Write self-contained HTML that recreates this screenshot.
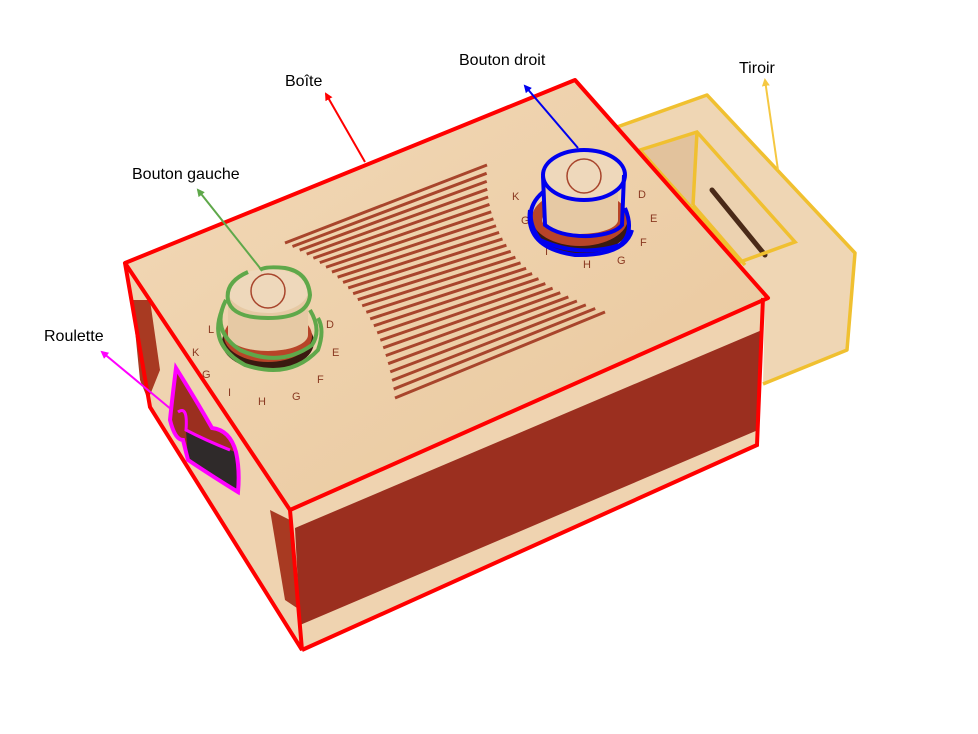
<!DOCTYPE html>
<html><head><meta charset="utf-8"><style>
html,body{margin:0;padding:0;background:#fff}
svg{display:block}
text{font-family:"Liberation Sans",sans-serif;font-size:16px;fill:#000}
</style></head><body>
<svg width="978" height="734" viewBox="0 0 978 734" xmlns="http://www.w3.org/2000/svg">
<defs>
<marker id="ar" markerWidth="8" markerHeight="8" refX="6" refY="4" orient="auto" markerUnits="userSpaceOnUse"><path d="M0,0 L8,4 L0,8 z" fill="red"/></marker>
<marker id="ab" markerWidth="8" markerHeight="8" refX="6" refY="4" orient="auto" markerUnits="userSpaceOnUse"><path d="M0,0 L8,4 L0,8 z" fill="#0000ee"/></marker>
<marker id="ay" markerWidth="8" markerHeight="8" refX="6" refY="4" orient="auto" markerUnits="userSpaceOnUse"><path d="M0,0 L8,4 L0,8 z" fill="#f5c842"/></marker>
<marker id="ag" markerWidth="8" markerHeight="8" refX="6" refY="4" orient="auto" markerUnits="userSpaceOnUse"><path d="M0,0 L8,4 L0,8 z" fill="#5fa84a"/></marker>
<marker id="am" markerWidth="8" markerHeight="8" refX="6" refY="4" orient="auto" markerUnits="userSpaceOnUse"><path d="M0,0 L8,4 L0,8 z" fill="#ff00ff"/></marker>
<linearGradient id="top" x1="0" y1="0" x2="1" y2="1"><stop offset="0" stop-color="#f2d9b8"/><stop offset="1" stop-color="#e9c79c"/></linearGradient>
</defs>

<!-- drawer -->
<polygon points="617,127 707,95 855,253 847,350 763,384 765,298" fill="#efd6b4"/>
<polygon points="640,150 697,132 795,242 740,262" fill="#e2c29c"/>
<polygon points="697,132 795,242 740,262 693,205" fill="#ecd2b0"/>
<line x1="712" y1="190" x2="765" y2="255" stroke="#4a2a18" stroke-width="5" stroke-linecap="round"/>

<!-- box top -->
<polygon points="125,263 575,80 768,298 290,510" fill="url(#top)"/>
<!-- left face -->
<polygon points="125,263 290,510 302,650 150,407" fill="#efd3b0"/>
<polygon points="132,300 150,300 160,370 148,400 140,380" fill="#a83a22"/>
<polygon points="270,510 290,520 300,610 285,600" fill="#a83a22"/>
<!-- front face -->
<polygon points="290,510 763,302 757,445 302,650" fill="#efd3b0"/>
<polygon points="295,528 762,330 758,430 300,625" fill="#9b2f1f"/>

<!-- stripes -->
<g id="stripes" stroke="#a8452c" stroke-width="3"></g>

<!-- dial labels -->
<g>
<text x="208" y="333" style="font-size:11px;fill:#8a3a22">L</text>
<text x="192" y="356" style="font-size:11px;fill:#8a3a22">K</text>
<text x="202" y="378" style="font-size:11px;fill:#8a3a22">G</text>
<text x="228" y="396" style="font-size:11px;fill:#8a3a22">I</text>
<text x="258" y="405" style="font-size:11px;fill:#8a3a22">H</text>
<text x="292" y="400" style="font-size:11px;fill:#8a3a22">G</text>
<text x="317" y="383" style="font-size:11px;fill:#8a3a22">F</text>
<text x="332" y="356" style="font-size:11px;fill:#8a3a22">E</text>
<text x="326" y="328" style="font-size:11px;fill:#8a3a22">D</text>
<text x="521" y="224" style="font-size:11px;fill:#8a3a22">G</text>
<text x="512" y="200" style="font-size:11px;fill:#8a3a22">K</text>
<text x="545" y="255" style="font-size:11px;fill:#8a3a22">I</text>
<text x="583" y="268" style="font-size:11px;fill:#8a3a22">H</text>
<text x="617" y="264" style="font-size:11px;fill:#8a3a22">G</text>
<text x="638" y="198" style="font-size:11px;fill:#8a3a22">D</text>
<text x="650" y="222" style="font-size:11px;fill:#8a3a22">E</text>
<text x="640" y="246" style="font-size:11px;fill:#8a3a22">F</text>
</g>

<!-- left knob -->
<ellipse cx="268" cy="342" rx="46" ry="28" fill="#3a1a10"/>
<ellipse cx="268" cy="336" rx="44" ry="26" fill="#b84428"/>
<rect x="228" y="290" width="80" height="45" fill="#e6c9a4"/>
<ellipse cx="268" cy="335" rx="40" ry="16" fill="#e6c9a4"/>
<ellipse cx="268" cy="291" rx="40" ry="22" fill="#eed8bb"/>
<circle cx="268" cy="291" r="17" fill="none" stroke="#a8452c" stroke-width="1.5"/>
<path d="M248,272 Q225,282 228,300 Q232,318 268,318 Q308,318 310,295 Q308,272 285,268 Q265,266 260,270" fill="none" stroke="#5fa84a" stroke-width="4"/>
<path d="M226,300 Q210,330 240,350 Q280,368 312,345 Q322,330 310,310" fill="none" stroke="#5fa84a" stroke-width="4"/>
<path d="M222,310 Q208,345 245,365 Q290,380 318,350 Q325,330 318,318" fill="none" stroke="#5fa84a" stroke-width="4"/>

<!-- right knob -->
<ellipse cx="580" cy="224" rx="50" ry="30" fill="#3a1a10"/>
<ellipse cx="580" cy="218" rx="48" ry="28" fill="#b84428"/>
<rect x="543" y="175" width="75" height="45" fill="#e6c9a4"/>
<ellipse cx="580" cy="220" rx="38" ry="14" fill="#e6c9a4"/>
<ellipse cx="584" cy="176" rx="40" ry="24" fill="#eed8bb"/>
<circle cx="584" cy="176" r="17" fill="none" stroke="#a8452c" stroke-width="1.5"/>
<ellipse cx="584" cy="175" rx="41" ry="25" fill="none" stroke="#0000ee" stroke-width="4"/>
<path d="M543,176 L545,225 Q560,237 590,236 Q615,234 622,225 L624,175" fill="none" stroke="#0000ee" stroke-width="4"/>
<path d="M543,192 Q520,212 540,240 Q580,258 620,245 Q635,232 625,208" fill="none" stroke="#0000ee" stroke-width="4"/>
<path d="M530,210 Q525,248 575,255 Q625,256 632,230" fill="none" stroke="#0000ee" stroke-width="4"/>

<!-- roulette -->
<path d="M176,368 Q172,400 170,420 Q175,440 183,440 L188,460 Q215,478 238,492 Q240,470 236,452 Q230,430 212,428 Q196,400 176,368 z" fill="#9b2f1f"/>
<path d="M186,430 L188,460 Q215,478 238,492 Q240,470 236,452 Q212,445 186,430 z" fill="#2f2a2a"/>
<path d="M176,368 Q172,400 170,420 Q175,440 183,440 L188,460 Q215,478 238,492 Q240,470 236,452 Q230,430 212,428 Q196,400 176,368 z" fill="none" stroke="#ff00ff" stroke-width="4"/>
<path d="M178,412 Q188,405 186,430 Q205,440 230,450" fill="none" stroke="#ff00ff" stroke-width="3"/>

<!-- outlines -->
<polyline points="617,127 707,95 855,253 847,350 763,384" fill="none" stroke="#f0c030" stroke-width="3.5" stroke-linejoin="round"/>
<polygon points="640,150 697,132 795,242 740,262" fill="none" stroke="#f0c030" stroke-width="3.5"/>
<line x1="697" y1="132" x2="693" y2="205" stroke="#f0c030" stroke-width="3.5"/>
<line x1="693" y1="205" x2="745" y2="265" stroke="#f0c030" stroke-width="3.5"/>
<polygon points="125,263 575,80 768,298 290,510" fill="none" stroke="red" stroke-width="4" stroke-linejoin="round"/>
<polyline points="125,263 150,407 302,650 290,510" fill="none" stroke="red" stroke-width="4"/>
<polyline points="302,650 757,445 763,298" fill="none" stroke="red" stroke-width="4"/>

<!-- connectors -->
<line x1="365" y1="162" x2="326" y2="94" stroke="red" stroke-width="2" marker-end="url(#ar)"/>
<line x1="578" y1="148" x2="525" y2="86" stroke="#0000ee" stroke-width="2" marker-end="url(#ab)"/>
<line x1="778" y1="170" x2="765" y2="80" stroke="#f5c842" stroke-width="2" marker-end="url(#ay)"/>
<line x1="260" y1="268" x2="198" y2="190" stroke="#5fa84a" stroke-width="2" marker-end="url(#ag)"/>
<line x1="172" y1="410" x2="102" y2="352" stroke="#ff00ff" stroke-width="2" marker-end="url(#am)"/>

<text x="285" y="86">Boîte</text>
<text x="459" y="65">Bouton droit</text>
<text x="739" y="73">Tiroir</text>
<text x="132" y="179">Bouton gauche</text>
<text x="44" y="341">Roulette</text>
</svg>
<script>
(function(){
var g=document.getElementById('stripes');var n=26;
function q(a,b,c,t){return (1-t)*(1-t)*a+2*(1-t)*t*b+t*t*c;}
for(var i=0;i<n;i++){var t=i/(n-1);
var lx=q(285,380,395,t), ly=q(243,285,398,t);
var rx=q(487,480,605,t), ry=q(165,270,312,t);
var l=document.createElementNS('http://www.w3.org/2000/svg','line');
l.setAttribute('x1',lx);l.setAttribute('y1',ly);l.setAttribute('x2',rx);l.setAttribute('y2',ry);g.appendChild(l);}
})();
</script>
</body></html>
